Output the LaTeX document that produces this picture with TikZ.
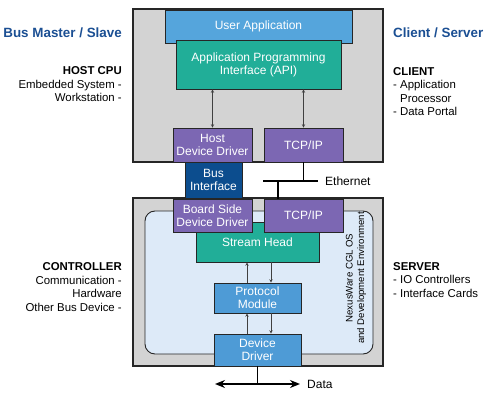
\documentclass[tikz,border=0pt]{standalone}
\usepackage{fontspec}
\setmainfont{Liberation Sans}
\usetikzlibrary{arrows, arrows.meta, positioning}
\definecolor{layergray}{HTML}{D3D3D3}
\definecolor{envblue}{HTML}{DDEAF8}
\definecolor{appblue}{HTML}{55A5DC}
\definecolor{apiteal}{HTML}{21AE98}
\definecolor{drvpurple}{HTML}{7C67B3}
\definecolor{busblue}{HTML}{0C4D8E}
\definecolor{modblue}{HTML}{4E9BD6}
\definecolor{hdrblue}{HTML}{1B4F93}
\tikzstyle{layer} = [rectangle, draw=black!85, line width=1.4pt, fill=layergray, inner sep=0pt]
\tikzstyle{env} = [rectangle, rounded corners=10pt, draw=black!85, line width=0.9pt, fill=envblue, inner sep=0pt]
\tikzstyle{box} = [rectangle, draw=black!85, line width=0.9pt, inner sep=0pt, text=white, align=center, font=\fontsize{12}{13.2}\selectfont]
\tikzstyle{side} = [align=right, anchor=east, inner sep=0pt, font=\fontsize{11.4}{13.5}\selectfont]
\tikzstyle{hdr} = [text=hdrblue, inner sep=0pt, font=\fontsize{13.4}{15}\selectfont\bfseries]
\tikzstyle{arrow} = [line width=0.5pt, draw=black!75, ->, >=stealth]
\tikzstyle{wire} = [line width=1.4pt, draw=black]
\tikzstyle{dataarrow} = [line width=1.4pt, {Stealth[length=10pt,width=8pt]}-{Stealth[length=10pt,width=8pt]}]

\begin{document}
\begin{tikzpicture}[x=1pt, y=-1pt]
      \useasboundingbox (0,0) rectangle (488,401);

      % host side
      \node (hostcpu) [layer, minimum width=250pt, minimum height=153pt] at (258,85.5) {};
      \node (userapp) [box, fill=appblue, minimum width=187pt, minimum height=33pt] at (258.5,26.5) {User Application};
      \node (api) [box, fill=apiteal, minimum width=165pt, minimum height=49pt] at (258.5,64.5) {Application Programming\\Interface (API)};
      \node (hostdrv) [box, fill=drvpurple, minimum width=79pt, minimum height=34pt] at (212.5,145) {Host\\Device Driver};
      \node (tcpup) [box, fill=drvpurple, minimum width=79pt, minimum height=34pt] at (303.5,145) {TCP/IP};

      % controller side
      \node (ctrl) [layer, minimum width=250pt, minimum height=168pt] at (258,282) {};
      \node (nexus) [env, minimum width=228pt, minimum height=143pt] at (259,282.5) {};
      \node (streamhead) [box, fill=apiteal, minimum width=123pt, minimum height=40pt] at (257.5,242) {Stream Head};
      \node (boarddrv) [box, fill=drvpurple, minimum width=79pt, minimum height=33pt] at (212.5,215.5) {Board Side\\Device Driver};
      \node (tcplow) [box, fill=drvpurple, minimum width=79pt, minimum height=33pt] at (303.5,215.5) {TCP/IP};
      \node (busif) [box, fill=busblue, minimum width=57pt, minimum height=36pt] at (213.5,180) {Bus\\Interface};
      \node (protocol) [box, fill=modblue, minimum width=87pt, minimum height=30pt] at (257.5,298) {Protocol\\Module};
      \node (devdrv) [box, fill=modblue, minimum width=87pt, minimum height=32pt] at (257.5,350) {Device\\Driver};
      \node (nexuslbl) [rotate=90, align=center, inner sep=0pt, font=\fontsize{9.6}{11.5}\selectfont] at (356,278) {NexusWare CGL OS\\and Development Environment};

      % connectors
      \draw [arrow, <->] (hostdrv.north) -- (hostdrv.north |- api.south);
      \draw [arrow, <->] (tcpup.north) -- (tcpup.north |- api.south);
      \draw [arrow] ([xshift=-10.5pt]protocol.north) -- ([xshift=-10.5pt]protocol.north |- streamhead.south);
      \draw [arrow] ([xshift=13.5pt]protocol.north |- streamhead.south) -- ([xshift=13.5pt]protocol.north);
      \draw [arrow] ([xshift=-10.5pt]devdrv.north) -- ([xshift=-10.5pt]protocol.south);
      \draw [arrow] ([xshift=13.5pt]protocol.south) -- ([xshift=13.5pt]devdrv.north);

      \coordinate (ethL) at (263,181);
      \coordinate (ethR) at (318,181);
      \coordinate (ethdrop) at (278,181);
      \draw [wire] (tcpup.south) -- (tcpup.south |- ethL);
      \draw [wire] (ethL) -- (ethR);
      \draw [wire] (ethdrop) -- (ethdrop |- tcplow.north);
      \node (ethernet) [anchor=west, inner sep=0pt, font=\fontsize{12}{13}\selectfont] at (325,181) {Ethernet};

      \coordinate (dataL) at (215,384);
      \coordinate (dataR) at (300,384);
      \draw [wire] (devdrv.south) -- (devdrv.south |- dataL);
      \draw [dataarrow] (dataL) -- (dataR);
      \node (data) [anchor=west, inner sep=0pt, font=\fontsize{12}{13}\selectfont] at (307,384) {Data};

      % side labels
      \node (busms) [hdr, anchor=east] at (122,33) {Bus Master / Slave};
      \node (hostlbl) [side] at (122,84.5) {\textbf{HOST CPU}\\Embedded System -\\Workstation -};
      \node (ctrllbl) [side] at (122,287) {\textbf{CONTROLLER}\\Communication -\\Hardware\hspace*{10pt}\\Other Bus Device -};
      \node (clsrv) [hdr, anchor=west] at (393,33) {Client / Server};
      \node (clientlbl) [side, align=left, anchor=west] at (393,91.5) {\textbf{CLIENT}\\- Application\\\phantom{- }Processor\\- Data Portal};
      \node (serverlbl) [side, align=left, anchor=west] at (393,280) {\textbf{SERVER}\\- IO Controllers\\- Interface Cards};
    \end{tikzpicture}
\end{document}
